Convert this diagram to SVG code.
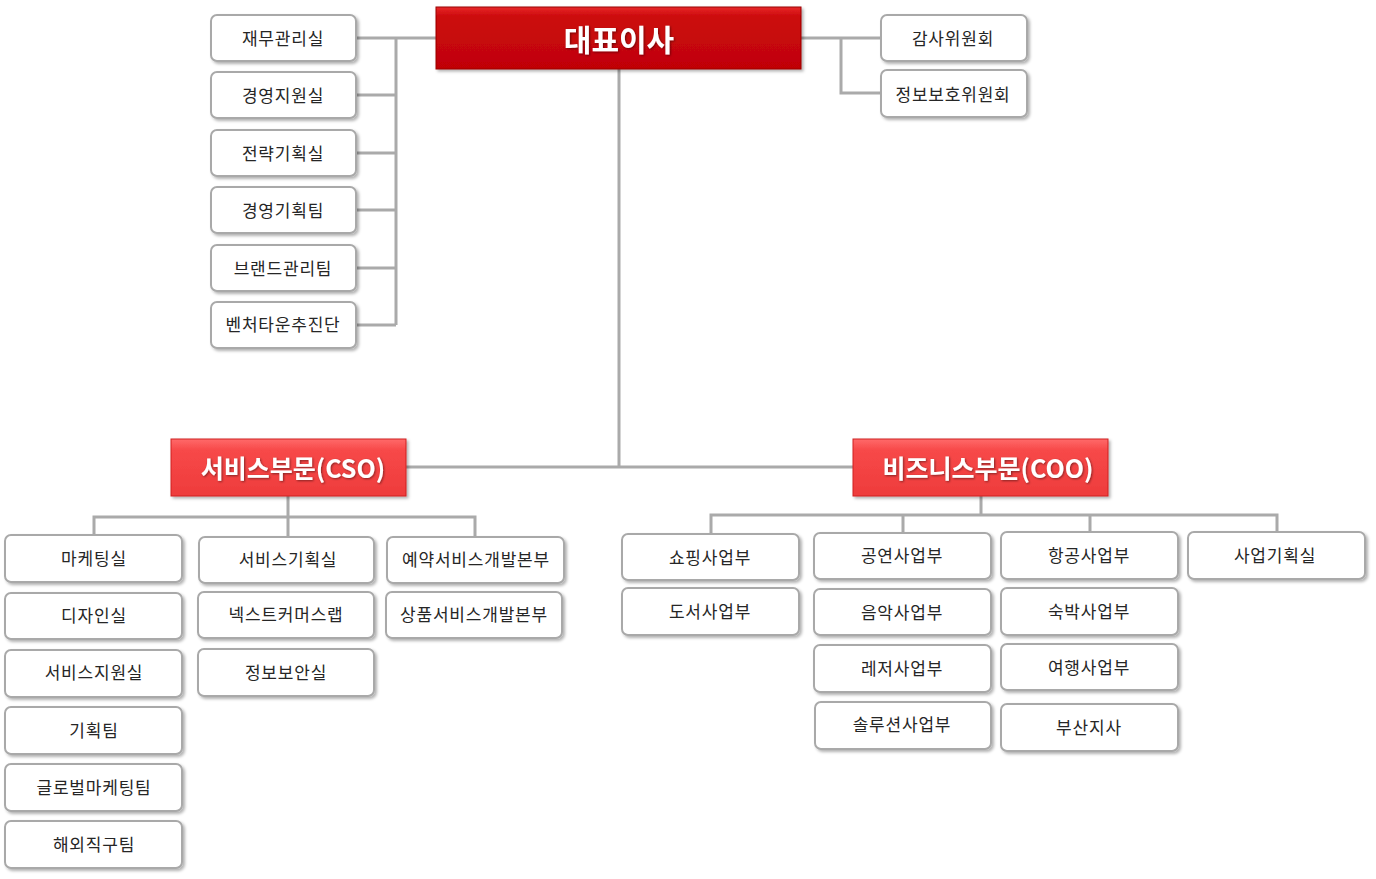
<svg xmlns="http://www.w3.org/2000/svg" width="1376" height="879" viewBox="0 0 1376 879">
<defs>
<linearGradient id="gTop" x1="0" y1="0" x2="0" y2="1">
<stop offset="0" stop-color="#e8282a"/>
<stop offset="0.15" stop-color="#cc0a0c"/>
<stop offset="1" stop-color="#c00406"/>
</linearGradient>
<linearGradient id="gDiv" x1="0" y1="0" x2="0" y2="1">
<stop offset="0" stop-color="#ff6a6a"/>
<stop offset="0.2" stop-color="#f74848"/>
<stop offset="1" stop-color="#ee3c3c"/>
</linearGradient>
<filter id="sh" x="-10%" y="-20%" width="125%" height="150%">
<feDropShadow dx="2" dy="2" stdDeviation="1.6" flood-color="#000" flood-opacity="0.3"/>
</filter>
<filter id="tsh" x="-10%" y="-20%" width="125%" height="150%">
<feDropShadow dx="1" dy="1" stdDeviation="0.8" flood-color="#000" flood-opacity="0.45"/>
</filter>
</defs>
<style>
.b{fill:#fff;stroke:#a9a9a9;stroke-width:2;filter:url(#sh)}
.t{font-family:"Noto Sans CJK KR","Noto Sans",sans-serif;font-size:17px;fill:#262626;text-anchor:middle;dominant-baseline:central;letter-spacing:0.8px}
.h{font-family:"Noto Sans CJK KR","Noto Sans",sans-serif;font-weight:bold;fill:#fff;text-anchor:middle;dominant-baseline:central;filter:url(#tsh)}
.c{fill:none;stroke:#aaaaaa;stroke-width:3}
</style>
<rect width="1376" height="879" fill="#fff"/>
<g id="connectors">
<path class="c" d="M356 38H436M396 38V325M356 95H396M356 153H396M356 210H396M356 268H396M356 325H396"/>
<path class="c" d="M801 38H881M841 38V93H881"/>
<path class="c" d="M619 69V467M406 467H853"/>
<path class="c" d="M288 496V517M94 535V517H475V537M288 517V537"/>
<path class="c" d="M981 496V515M711 534V515H1277V532M903 515V533M1090 515V532"/>
</g>
<g id="ceo"><rect x="436" y="7" width="365" height="62" fill="url(#gTop)" stroke="#9a0000" stroke-width="1" filter="url(#sh)"/><text class="h" x="619" y="38" font-size="30">대표이사</text></g>
<g id="n1"><rect class="b" x="211" y="15" width="145" height="46" rx="6"/><text class="t" x="283" y="37">재무관리실</text></g>
<g id="n2"><rect class="b" x="211" y="72" width="145" height="46" rx="6"/><text class="t" x="283" y="94">경영지원실</text></g>
<g id="n3"><rect class="b" x="211" y="130" width="145" height="46" rx="6"/><text class="t" x="283" y="152">전략기획실</text></g>
<g id="n4"><rect class="b" x="211" y="187" width="145" height="46" rx="6"/><text class="t" x="283" y="209">경영기획팀</text></g>
<g id="n5"><rect class="b" x="211" y="245" width="145" height="46" rx="6"/><text class="t" x="283" y="267">브랜드관리팀</text></g>
<g id="n6"><rect class="b" x="211" y="302" width="145" height="46" rx="6"/><text class="t" x="283" y="323">벤처타운추진단</text></g>
<g id="n7"><rect class="b" x="881" y="15" width="146" height="46" rx="6"/><text class="t" x="953" y="37">감사위원회</text></g>
<g id="n8"><rect class="b" x="881" y="70" width="146" height="47" rx="6"/><text class="t" x="953" y="93">정보보호위원회</text></g>
<g id="cso"><rect x="171" y="439" width="235" height="57" fill="url(#gDiv)" stroke="#d02020" stroke-width="1" filter="url(#sh)"/><text class="h" x="293" y="467" font-size="25">서비스부문(CSO)</text></g>
<g id="coo"><rect x="853" y="439" width="255" height="57" fill="url(#gDiv)" stroke="#d02020" stroke-width="1" filter="url(#sh)"/><text class="h" x="988" y="467" font-size="25">비즈니스부문(COO)</text></g>
<g id="s1"><rect class="b" x="5" y="535" width="177" height="47" rx="6"/><text class="t" x="94" y="557">마케팅실</text></g>
<g id="s2"><rect class="b" x="5" y="593" width="177" height="46" rx="6"/><text class="t" x="94" y="614">디자인실</text></g>
<g id="s3"><rect class="b" x="5" y="650" width="177" height="47" rx="6"/><text class="t" x="94" y="671">서비스지원실</text></g>
<g id="s4"><rect class="b" x="5" y="707" width="177" height="47" rx="6"/><text class="t" x="94" y="729">기획팀</text></g>
<g id="s5"><rect class="b" x="5" y="764" width="177" height="47" rx="6"/><text class="t" x="94" y="786">글로벌마케팅팀</text></g>
<g id="s6"><rect class="b" x="5" y="821" width="177" height="47" rx="6"/><text class="t" x="94" y="843">해외직구팀</text></g>
<g id="s7"><rect class="b" x="199" y="537" width="175" height="46" rx="6"/><text class="t" x="288" y="558">서비스기획실</text></g>
<g id="s8"><rect class="b" x="198" y="592" width="176" height="46" rx="6"/><text class="t" x="286" y="613">넥스트커머스랩</text></g>
<g id="s9"><rect class="b" x="198" y="649" width="176" height="47" rx="6"/><text class="t" x="286" y="671">정보보안실</text></g>
<g id="s10"><rect class="b" x="387" y="537" width="177" height="46" rx="6"/><text class="t" x="476" y="558">예약서비스개발본부</text></g>
<g id="s11"><rect class="b" x="386" y="592" width="176" height="46" rx="6"/><text class="t" x="474" y="613">상품서비스개발본부</text></g>
<g id="b1"><rect class="b" x="622" y="534" width="177" height="46" rx="6"/><text class="t" x="710" y="556">쇼핑사업부</text></g>
<g id="b2"><rect class="b" x="622" y="588" width="177" height="47" rx="6"/><text class="t" x="710" y="610">도서사업부</text></g>
<g id="b3"><rect class="b" x="814" y="533" width="177" height="46" rx="6"/><text class="t" x="902" y="554">공연사업부</text></g>
<g id="b4"><rect class="b" x="814" y="589" width="177" height="46" rx="6"/><text class="t" x="902" y="611">음악사업부</text></g>
<g id="b5"><rect class="b" x="814" y="645" width="177" height="47" rx="6"/><text class="t" x="902" y="667">레저사업부</text></g>
<g id="b6"><rect class="b" x="815" y="702" width="176" height="47" rx="6"/><text class="t" x="902" y="723">솔루션사업부</text></g>
<g id="b7"><rect class="b" x="1001" y="532" width="177" height="47" rx="6"/><text class="t" x="1089" y="554">항공사업부</text></g>
<g id="b8"><rect class="b" x="1001" y="588" width="177" height="47" rx="6"/><text class="t" x="1089" y="610">숙박사업부</text></g>
<g id="b9"><rect class="b" x="1001" y="644" width="177" height="46" rx="6"/><text class="t" x="1089" y="666">여행사업부</text></g>
<g id="b10"><rect class="b" x="1001" y="704" width="177" height="47" rx="6"/><text class="t" x="1089" y="726">부산지사</text></g>
<g id="b11"><rect class="b" x="1188" y="532" width="177" height="47" rx="6"/><text class="t" x="1275" y="554">사업기획실</text></g>
</svg>
